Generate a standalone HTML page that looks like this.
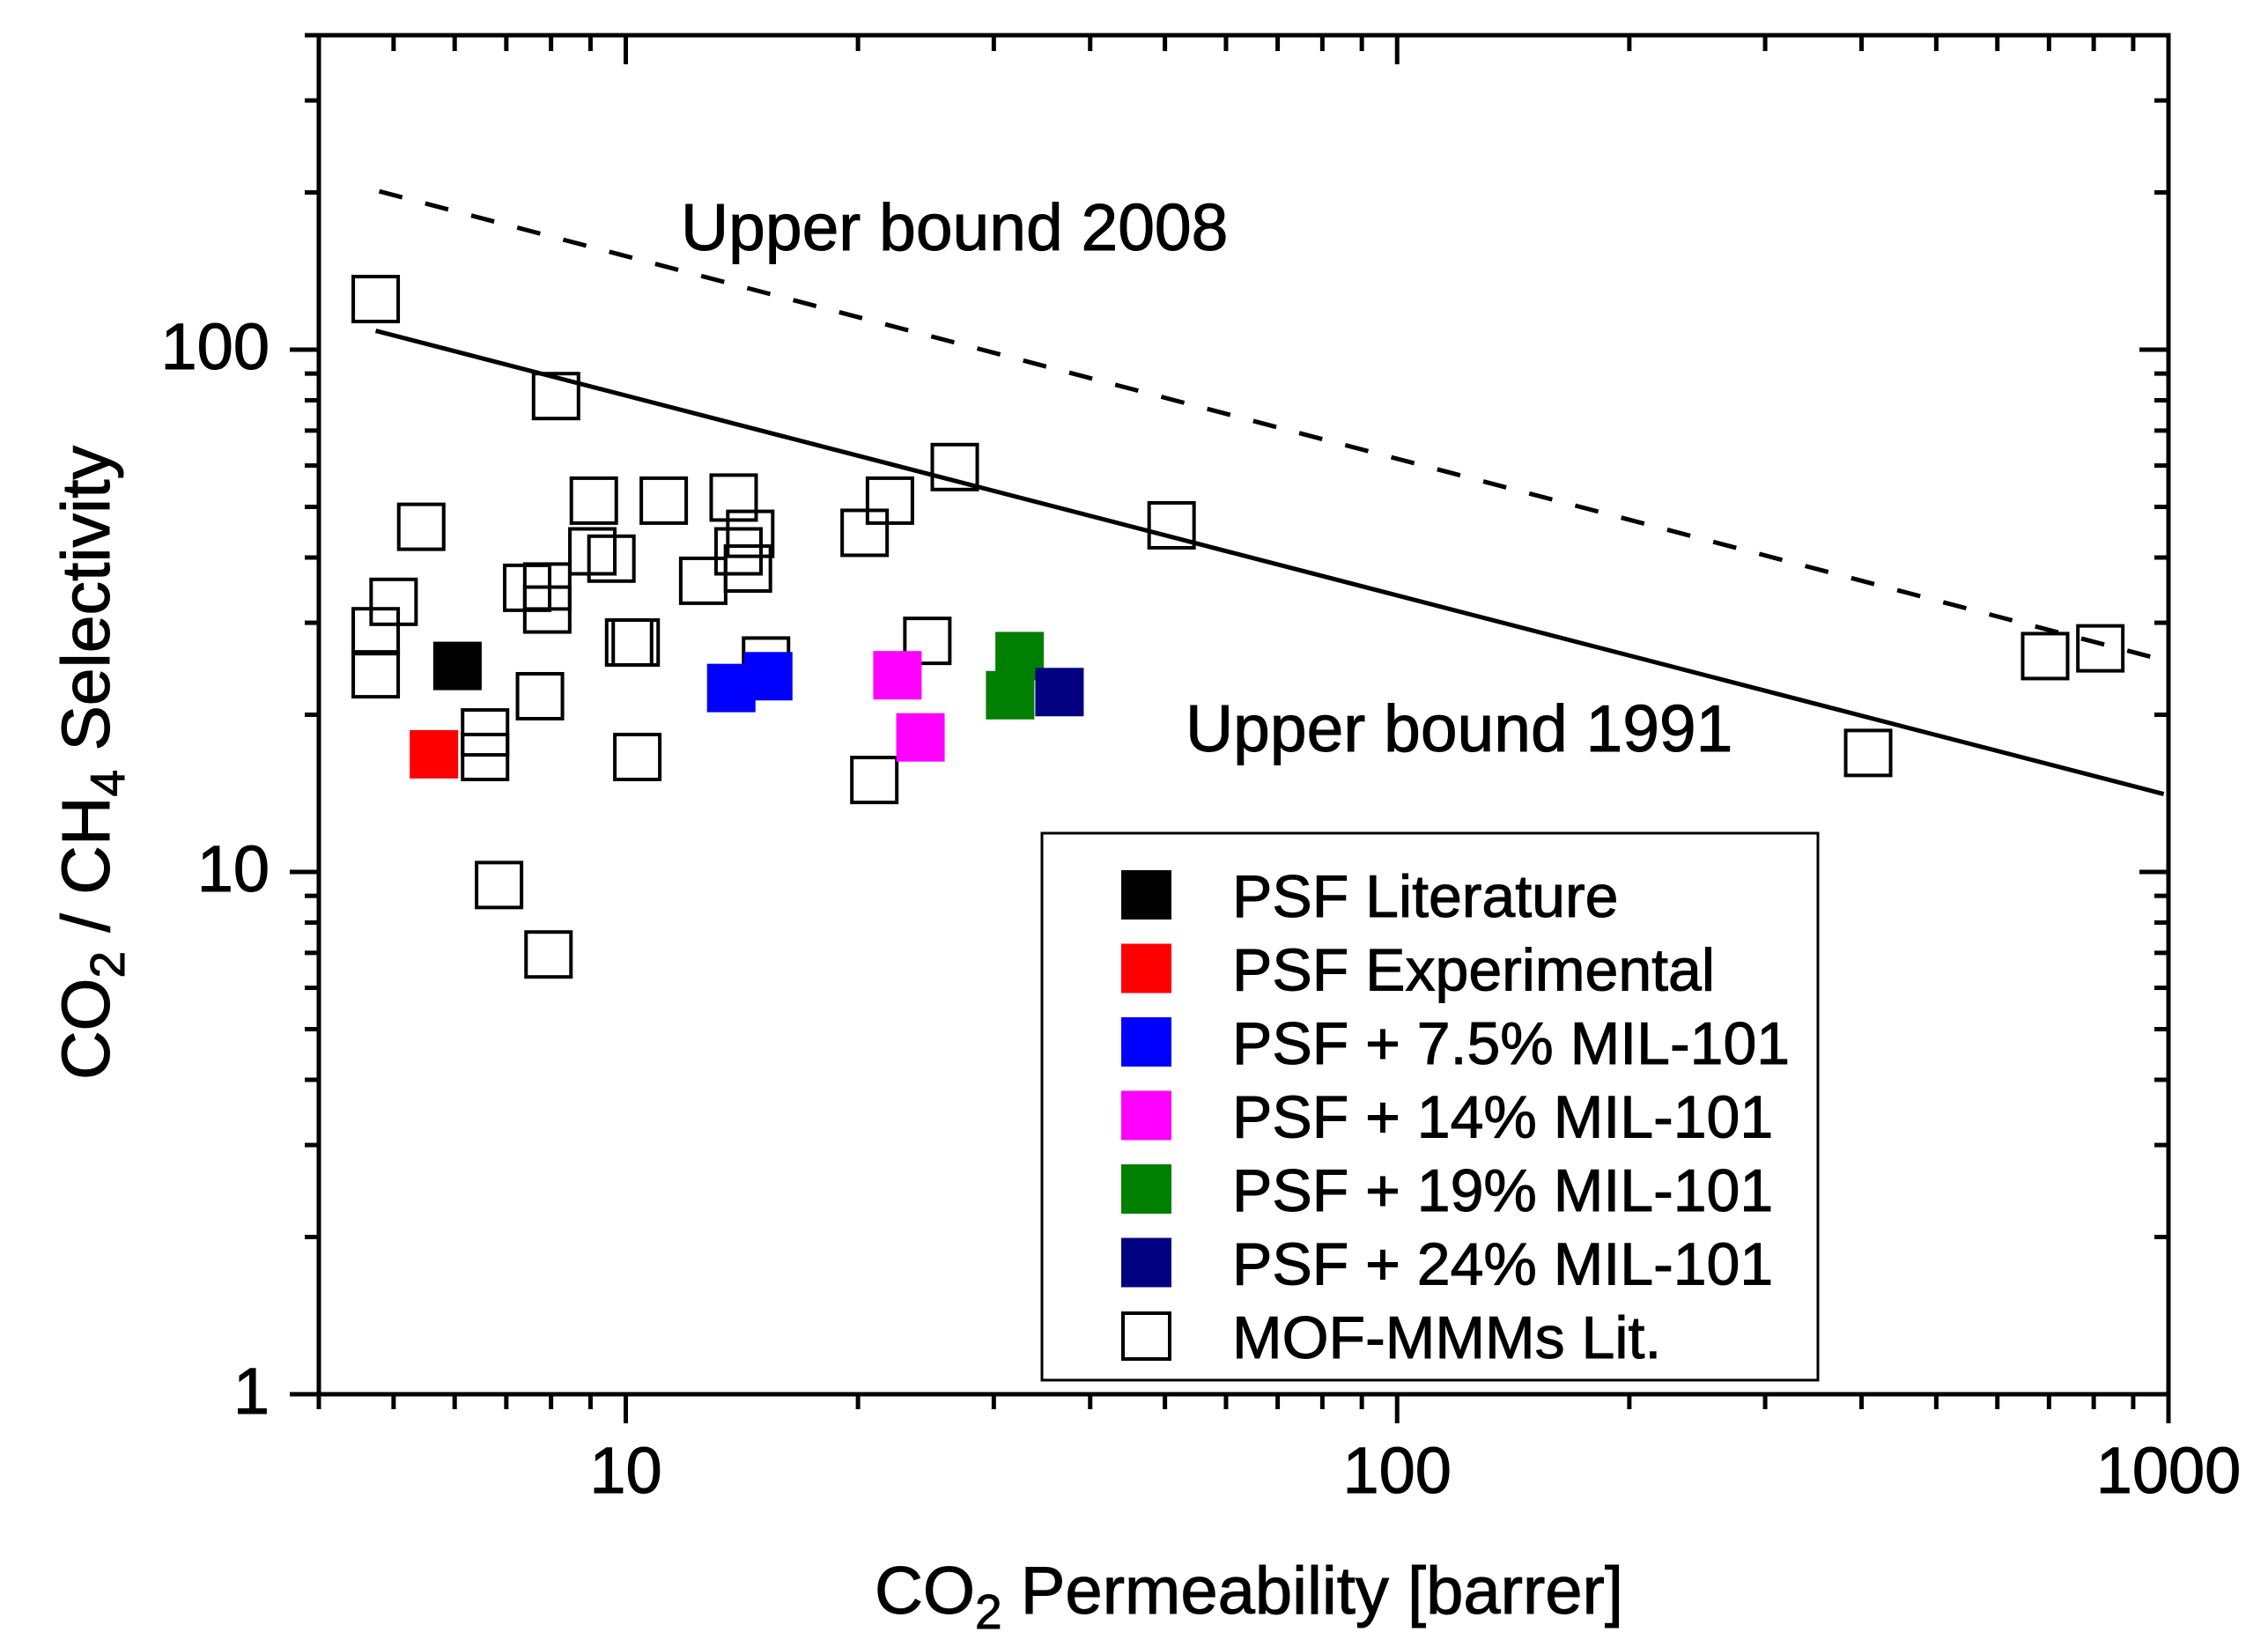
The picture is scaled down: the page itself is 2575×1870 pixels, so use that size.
<!DOCTYPE html>
<html><head><meta charset="utf-8"><title>CO2/CH4 Robeson plot</title>
<style>html,body{margin:0;padding:0;background:#fff}svg{display:block}text{font-family:"Liberation Sans",Arial,sans-serif;fill:#000;stroke:#000;stroke-width:1}</style>
</head><body>
<svg id="chart" width="2575" height="1870" viewBox="0 0 2575 1870" xmlns="http://www.w3.org/2000/svg"></svg>
<script>
// ---- data ----
const litX = [4.74,8.12,5.43,5.0,4.74,4.74,7.45,7.91,7.91,7.74,6.57,6.57,6.85,7.94,9.09,9.05,9.58,10.1,10.3,10.35,11.2,12.6,13.8,14.0,14.5,14.4,15.2,20.4,22.0,26.7,24.6,21.0,51.0,408,692,816];
const litY = [125,81.5,45.8,32.9,28.9,23.9,35.0,35.2,31.8,21.7,18.5,16.6,9.44,6.95,51.4,41.1,39.8,27.5,27.5,16.6,51.4,36.1,52.1,41.1,44.4,38.1,25.4,44.6,51.4,59.6,27.7,15.0,46.1,16.9,25.9,26.8];
const seriesNames = ["PSF Literature","PSF Experimental","PSF + 7.5% MIL-101","PSF + 14% MIL-101","PSF + 19% MIL-101","PSF + 24% MIL-101"];
const seriesColors = ["#000000","#ff0000","#0000ff","#ff00ff","#008000","#000080"];
const seriesX = [[6.05],[5.64],[13.7,15.3],[22.5,24.1],[32.4,31.5],[36.5]];
const seriesY = [[24.8],[16.8],[22.5,23.7],[23.8,18.1],[25.9,21.8],[22.1]];
const bound1991X = [4.74,986];
const bound1991Y = [108.7,14.1];
const bound2008X = [4.79,1000];
const bound2008Y = [201,25.3];
const xTickVals = [10,100,1000];
const xTickLabels = ["10","100","1000"];
const yTickVals = [1,10,100];
const yTickLabels = ["1","10","100"];

// ---- axes ----
const L=362,R=2462,T=40,B=1583;
const xMin=4,xMax=1000,yMin=1,yMax=400;
const xs=v=>L+(Math.log10(v)-Math.log10(xMin))/(Math.log10(xMax)-Math.log10(xMin))*(R-L);
const ys=v=>B-(Math.log10(v)-Math.log10(yMin))/(Math.log10(yMax)-Math.log10(yMin))*(B-T);
const svg=document.getElementById('chart');
const NS='http://www.w3.org/2000/svg';
function mk(tag,attrs,parent){const e=document.createElementNS(NS,tag);for(const k in attrs)e.setAttribute(k,attrs[k]);(parent||svg).appendChild(e);return e;}

// ticks
const ticks=mk('g',{stroke:'#000','stroke-width':5});


for(let d=1;d<=1000;d*=10){for(let m=1;m<10;m++){const v=d*m;if(v<xMin||v>xMax)continue;const x=xs(v);const maj=(m===1);
 mk('line',{x1:x,y1:B,x2:x,y2:B+(maj?33:17)},ticks);
 mk('line',{x1:x,y1:T,x2:x,y2:T+(maj?33:18)},ticks);}}
for(let d=1;d<=100;d*=10){for(let m=1;m<10;m++){const v=d*m;if(v<yMin||v>yMax)continue;const y=ys(v);const maj=(m===1);
 mk('line',{x1:L,y1:y,x2:L-(maj?33:16),y2:y},ticks);
 mk('line',{x1:R,y1:y,x2:R-(maj?33:16),y2:y},ticks);}}
const frame=mk('rect',{x:L,y:T,width:R-L,height:B-T,fill:'none',stroke:'#000','stroke-width':5});



xTickVals.forEach((v,i)=>{const t=mk('text',{x:xs(v),y:1695,'font-size':74,'text-anchor':'middle'});t.textContent=xTickLabels[i];
 
 });
yTickVals.forEach((v,i)=>{const t=mk('text',{x:306,y:ys(v)+22,'font-size':74,'text-anchor':'end'});t.textContent=yTickLabels[i];
 
 });

// bound lines
const l1=mk('line',{x1:xs(bound1991X[0]),y1:ys(bound1991Y[0]),x2:xs(bound1991X[1]),y2:ys(bound1991Y[1]),stroke:'#000','stroke-width':5});


const l2=mk('line',{x1:xs(bound2008X[0]),y1:ys(bound2008Y[0]),x2:xs(bound2008X[1]),y2:ys(bound2008Y[1]),stroke:'#000','stroke-width':5,'stroke-dasharray':'27 27'});



// literature markers
const S=55;
litX.forEach((v,i)=>{const r=mk('rect',{x:xs(v)-S/2+2,y:ys(litY[i])-S/2+2,width:S-4,height:S-4,fill:'none',stroke:'#000','stroke-width':4});
 
 });
// series markers
seriesX.forEach((arr,s)=>{arr.forEach((v,i)=>{const r=mk('rect',{x:xs(v)-S/2,y:ys(seriesY[s][i])-S/2,width:S,height:S,fill:seriesColors[s]});
 
 });});

// annotations
const a1=mk('text',{x:773,y:284,'font-size':75});a1.textContent='Upper bound 2008';


const a2=mk('text',{x:1346,y:853,'font-size':75});a2.textContent='Upper bound 1991';



// legend
const lg=mk('g',{});


mk('rect',{x:1183,y:946,width:881,height:621,fill:'#fff',stroke:'#000','stroke-width':3},lg);
const names=seriesNames.concat(['MOF-MMMs Lit.']);
names.forEach((n,i)=>{const cy=1016+i*83.5;
 const r=mk('rect',i<6?{x:1273,y:cy-28,width:57,height:56,fill:seriesColors[i]}:{x:1275,y:cy-26,width:53,height:52,fill:'none',stroke:'#000','stroke-width':4},lg);
 
 
 const t=mk('text',{x:1399,y:cy+25,'font-size':68},lg);t.textContent=n;
 
 });

// axis titles
const xt=mk('text',{x:1418,y:1832,'font-size':76,'text-anchor':'middle'});
xt.innerHTML='CO<tspan font-size="55" dy="17">2</tspan><tspan dy="-17"> Permeability [barrer]</tspan>';


const yt=mk('text',{x:0,y:0,'font-size':77,'text-anchor':'middle',transform:'translate(124,866) rotate(-90)'});
yt.innerHTML='CO<tspan font-size="55" dy="17">2</tspan><tspan dy="-17"> / CH</tspan><tspan font-size="55" dy="17">4</tspan><tspan dy="-17"> Selectivity</tspan>';


</script>
</body></html>
